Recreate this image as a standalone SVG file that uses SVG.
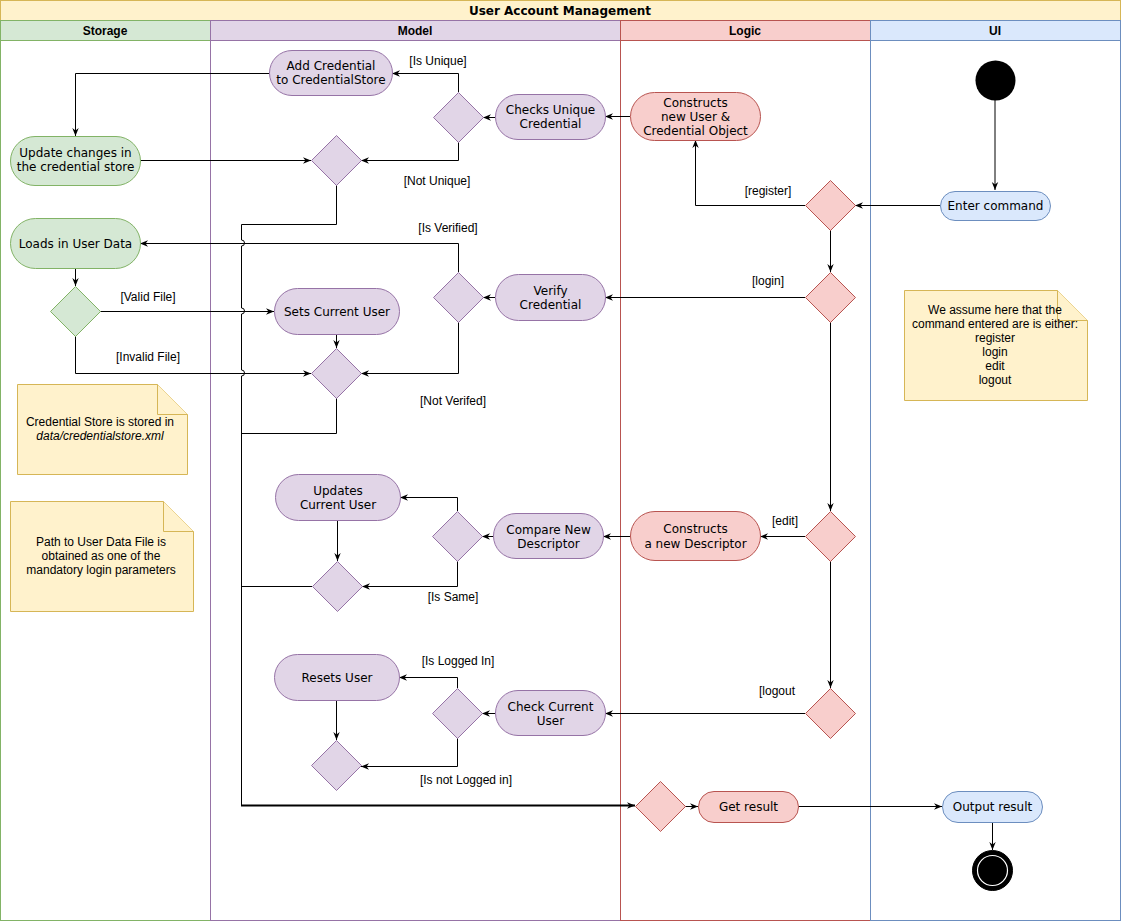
<svg xmlns="http://www.w3.org/2000/svg" width="1121" height="922" viewBox="0 0 1121 922">
<style>
.t{font-family:"DejaVu Sans",Verdana,sans-serif;font-size:12px;fill:#000;text-anchor:middle}
.l{font-family:"Liberation Sans",Arial,sans-serif;font-size:12px;fill:#000;text-anchor:middle}
.h{font-family:"Liberation Sans",Arial,sans-serif;font-size:12px;font-weight:bold;fill:#000;text-anchor:middle}
.n{font-family:"Liberation Sans",Arial,sans-serif;font-size:12px;fill:#000;text-anchor:middle}
.g{fill:#d5e8d4;stroke:#82b366}
.p{fill:#e1d5e7;stroke:#9673a6}
.r{fill:#f8cecc;stroke:#b85450}
.b{fill:#dae8fc;stroke:#6c8ebf}
.y{fill:#fff2cc;stroke:#d6b656}
.c{fill:none;stroke:#000;stroke-width:1}
</style>
<defs>
<marker id="a" viewBox="0 0 10 10" refX="10" refY="5" markerWidth="8" markerHeight="8" markerUnits="userSpaceOnUse" orient="auto">
<path d="M0,1 L10,5 L0,9 L3,5 z" fill="#000"/>
</marker>
</defs>
<rect width="1121" height="922" fill="#fff"/>
<g id="pool">
<rect class="y" x="0.5" y="0.5" width="1120" height="20"/>
<text x="560" y="15" font-family="'DejaVu Sans',Verdana,sans-serif" font-size="12" font-weight="bold" text-anchor="middle">User Account Management</text>
<rect x="0.5" y="20.5" width="210" height="900" fill="none" stroke="#82b366"/>
<rect class="g" x="0.5" y="20.5" width="210" height="20"/>
<text class="h" x="105" y="35">Storage</text>
<rect x="210.5" y="20.5" width="410" height="900" fill="none" stroke="#9673a6"/>
<rect class="p" x="210.5" y="20.5" width="410" height="20"/>
<text class="h" x="415" y="35">Model</text>
<rect x="620.5" y="20.5" width="250" height="900" fill="none" stroke="#b85450"/>
<rect class="r" x="620.5" y="20.5" width="250" height="20"/>
<text class="h" x="745" y="35">Logic</text>
<rect x="870.5" y="20.5" width="250" height="900" fill="none" stroke="#6c8ebf"/>
<rect class="b" x="870.5" y="20.5" width="250" height="20"/>
<text class="h" x="995" y="35">UI</text>
</g>
<g id="connectors">
<path class="c" d="M995,100 V190" marker-end="url(#a)"/>
<path class="c" d="M940,205.5 H855" marker-end="url(#a)"/>
<path class="c" d="M805,205.5 H695.5 V140" marker-end="url(#a)"/>
<path class="c" d="M830.5,230 V272" marker-end="url(#a)"/>
<path class="c" d="M630,116.5 H605" marker-end="url(#a)"/>
<path class="c" d="M495,117.5 H483" marker-end="url(#a)"/>
<path class="c" d="M458.5,92 V73.5 H392" marker-end="url(#a)"/>
<path class="c" d="M458.5,142 V160.5 H361" marker-end="url(#a)"/>
<path class="c" d="M269,73.5 H75.5 V136" marker-end="url(#a)"/>
<path class="c" d="M140,160.5 H311" marker-end="url(#a)"/>
<path class="c" d="M336.5,185 V224.5 H241.5 V240 a3,3 0 0 1 0,6 V308 a3,3 0 0 1 0,6 V370 a3,3 0 0 1 0,6 V805.5"/>
<path d="M241,805.5 H635" fill="none" stroke="#000" stroke-width="2" marker-end="url(#a)"/>
<path class="c" d="M805,297.5 H605" marker-end="url(#a)"/>
<path class="c" d="M495,297.5 H483" marker-end="url(#a)"/>
<path class="c" d="M458.5,272 V243.5 H140" marker-end="url(#a)"/>
<path class="c" d="M458.5,322 V373.5 H361" marker-end="url(#a)"/>
<path class="c" d="M75.5,268 V286" marker-end="url(#a)"/>
<path class="c" d="M100,311.5 H274" marker-end="url(#a)"/>
<path class="c" d="M75.5,336 V373.5 H311" marker-end="url(#a)"/>
<path class="c" d="M336.5,334 V348" marker-end="url(#a)"/>
<path class="c" d="M336.5,398 V433.5 H241.5"/>
<path class="c" d="M830.5,322 V511" marker-end="url(#a)"/>
<path class="c" d="M805,536.5 H760" marker-end="url(#a)"/>
<path class="c" d="M630,536.5 H603" marker-end="url(#a)"/>
<path class="c" d="M493,536.5 H482" marker-end="url(#a)"/>
<path class="c" d="M457.5,511 V497.5 H400" marker-end="url(#a)"/>
<path class="c" d="M457.5,561 V586.5 H362" marker-end="url(#a)"/>
<path class="c" d="M337.5,520 V561" marker-end="url(#a)"/>
<path class="c" d="M312,586.5 H241.5"/>
<path class="c" d="M830.5,561 V688" marker-end="url(#a)"/>
<path class="c" d="M805,713.5 H605" marker-end="url(#a)"/>
<path class="c" d="M495,713.5 H482" marker-end="url(#a)"/>
<path class="c" d="M457.5,688 V677.5 H399" marker-end="url(#a)"/>
<path class="c" d="M457.5,738 V766.5 H361" marker-end="url(#a)"/>
<path class="c" d="M336.5,700 V740" marker-end="url(#a)"/>
<path class="c" d="M685,806.5 H698" marker-end="url(#a)"/>
<path class="c" d="M798,806.5 H942" marker-end="url(#a)"/>
<path class="c" d="M992.5,822 V850" marker-end="url(#a)"/>
<text class="l" x="438" y="65">[Is Unique]</text>
<text class="l" x="437" y="185">[Not Unique]</text>
<text class="l" x="768" y="195">[register]</text>
<text class="l" x="768" y="285">[login]</text>
<text class="l" x="448" y="232">[Is Verified]</text>
<text class="l" x="453" y="405">[Not Verifed]</text>
<text class="l" x="148" y="301">[Valid File]</text>
<text class="l" x="148" y="361">[Invalid File]</text>
<text class="l" x="785" y="525">[edit]</text>
<text class="l" x="453" y="601">[Is Same]</text>
<text class="l" x="777" y="695">[logout</text>
<text class="l" x="458" y="665">[Is Logged In]</text>
<text class="l" x="466" y="784">[Is not Logged in]</text>
</g>
<g id="start"><circle cx="995.5" cy="80.5" r="20" fill="#000"/></g>
<g id="end"><circle cx="992.5" cy="870.5" r="20" fill="#000" stroke="#000" stroke-width="1"/><circle cx="992.5" cy="870.5" r="15" fill="none" stroke="#fff" stroke-width="1.2"/></g>
<g id="enterCommand"><rect class="b" x="940.5" y="191.5" width="110" height="29" rx="14.5"/><text class="t" x="995.5" y="210">Enter command</text></g>
<g id="registerDiamond"><path class="r" d="M830.5,180.5 L855.5,205.5 L830.5,230.5 L805.5,205.5 Z"/></g>
<g id="loginDiamond"><path class="r" d="M830.5,272.5 L855.5,297.5 L830.5,322.5 L805.5,297.5 Z"/></g>
<g id="editDiamond"><path class="r" d="M830.5,511.5 L855.5,536.5 L830.5,561.5 L805.5,536.5 Z"/></g>
<g id="logoutDiamond"><path class="r" d="M830.5,688.5 L855.5,713.5 L830.5,738.5 L805.5,713.5 Z"/></g>
<g id="constructsUser"><rect class="r" x="630.5" y="92.5" width="130" height="48" rx="24"/><text class="t" x="695.5" y="107">Constructs</text><text class="t" x="695.5" y="121">new User &amp;</text><text class="t" x="695.5" y="135">Credential Object</text></g>
<g id="constructsDescriptor"><rect class="r" x="630.5" y="511.5" width="130" height="49" rx="24.5"/><text class="t" x="695.5" y="533">Constructs</text><text class="t" x="695.5" y="548">a new Descriptor</text></g>
<g id="finalDiamond"><path class="r" d="M660.5,781.5 L685.5,806.5 L660.5,831.5 L635.5,806.5 Z"/></g>
<g id="getResult"><rect class="r" x="698.5" y="791.5" width="100" height="31" rx="15.5"/><text class="t" x="748.5" y="811">Get result</text></g>
<g id="outputResult"><rect class="b" x="942.5" y="791.5" width="100" height="31" rx="15.5"/><text class="t" x="992.5" y="811">Output result</text></g>
<g id="checksUnique"><rect class="p" x="495.5" y="94.5" width="110" height="45" rx="22.5"/><text class="t" x="550.5" y="114">Checks Unique</text><text class="t" x="550.5" y="128">Credential</text></g>
<g id="uniqueDiamond"><path class="p" d="M458.5,92.5 L483.5,117.5 L458.5,142.5 L433.5,117.5 Z"/></g>
<g id="addCredential"><rect class="p" x="269.5" y="50.5" width="123" height="45" rx="22.5"/><text class="t" x="331" y="70">Add Credential</text><text class="t" x="331" y="84">to CredentialStore</text></g>
<g id="mergeDiamond1"><path class="p" d="M336.5,135.5 L361.5,160.5 L336.5,185.5 L311.5,160.5 Z"/></g>
<g id="verifyCredential"><rect class="p" x="495.5" y="274.5" width="110" height="46" rx="23"/><text class="t" x="550.5" y="295">Verify</text><text class="t" x="550.5" y="309">Credential</text></g>
<g id="verifyDiamond"><path class="p" d="M458.5,272.5 L483.5,297.5 L458.5,322.5 L433.5,297.5 Z"/></g>
<g id="setsCurrentUser"><rect class="p" x="274.5" y="288.5" width="125" height="46" rx="23"/><text class="t" x="337" y="316">Sets Current User</text></g>
<g id="mergeDiamond2"><path class="p" d="M336.5,348.5 L361.5,373.5 L336.5,398.5 L311.5,373.5 Z"/></g>
<g id="compareDescriptor"><rect class="p" x="493.5" y="513.5" width="110" height="45" rx="22.5"/><text class="t" x="548.5" y="534">Compare New</text><text class="t" x="548.5" y="548">Descriptor</text></g>
<g id="compareDiamond"><path class="p" d="M457.5,511.5 L482.5,536.5 L457.5,561.5 L432.5,536.5 Z"/></g>
<g id="updatesCurrentUser"><rect class="p" x="275.5" y="474.5" width="125" height="46" rx="23"/><text class="t" x="338" y="495">Updates</text><text class="t" x="338" y="509">Current User</text></g>
<g id="mergeDiamond3"><path class="p" d="M337.5,561.5 L362.5,586.5 L337.5,611.5 L312.5,586.5 Z"/></g>
<g id="checkCurrentUser"><rect class="p" x="495.5" y="690.5" width="110" height="45" rx="22.5"/><text class="t" x="550.5" y="711">Check Current</text><text class="t" x="550.5" y="725">User</text></g>
<g id="loggedInDiamond"><path class="p" d="M457.5,688.5 L482.5,713.5 L457.5,738.5 L432.5,713.5 Z"/></g>
<g id="resetsUser"><rect class="p" x="274.5" y="654.5" width="125" height="46" rx="23"/><text class="t" x="337" y="682">Resets User</text></g>
<g id="mergeDiamond4"><path class="p" d="M336.5,740.5 L361.5,765.5 L336.5,790.5 L311.5,765.5 Z"/></g>
<g id="updateChanges"><rect class="g" x="10.5" y="136.5" width="130" height="49" rx="24.5"/><text class="t" x="75.5" y="157">Update changes in</text><text class="t" x="75.5" y="171">the credential store</text></g>
<g id="loadsUserData"><rect class="g" x="10.5" y="218.5" width="130" height="50" rx="25"/><text class="t" x="75.5" y="248">Loads in User Data</text></g>
<g id="fileDiamond"><path class="g" d="M75.5,286.5 L100.5,311.5 L75.5,336.5 L50.5,311.5 Z"/></g>
<g id="noteStore"><path class="y" d="M17.5,384.5 H157.5 L187.5,414.5 V474.5 H17.5 Z"/><path class="y" d="M157.5,384.5 V414.5 H187.5"/><text class="n" x="100" y="426">Credential Store is stored in</text><text class="n" x="100" y="440" font-style="italic">data/credentialstore.xml</text></g>
<g id="notePath"><path class="y" d="M10.5,501.5 H163.5 L193.5,531.5 V611.5 H10.5 Z"/><path class="y" d="M163.5,501.5 V531.5 H193.5"/><text class="n" x="101" y="546">Path to User Data File is</text><text class="n" x="101" y="560">obtained as one of the</text><text class="n" x="101" y="574">mandatory login parameters</text></g>
<g id="noteCommands"><path class="y" d="M904.5,290.5 H1057.5 L1087.5,320.5 V400.5 H904.5 Z"/><path class="y" d="M1057.5,290.5 V320.5 H1087.5"/><text class="n" x="995" y="314">We assume here that the</text><text class="n" x="995" y="328">command entered are is either:</text><text class="n" x="995" y="342">register</text><text class="n" x="995" y="356">login</text><text class="n" x="995" y="370">edit</text><text class="n" x="995" y="384">logout</text></g>
</svg>
